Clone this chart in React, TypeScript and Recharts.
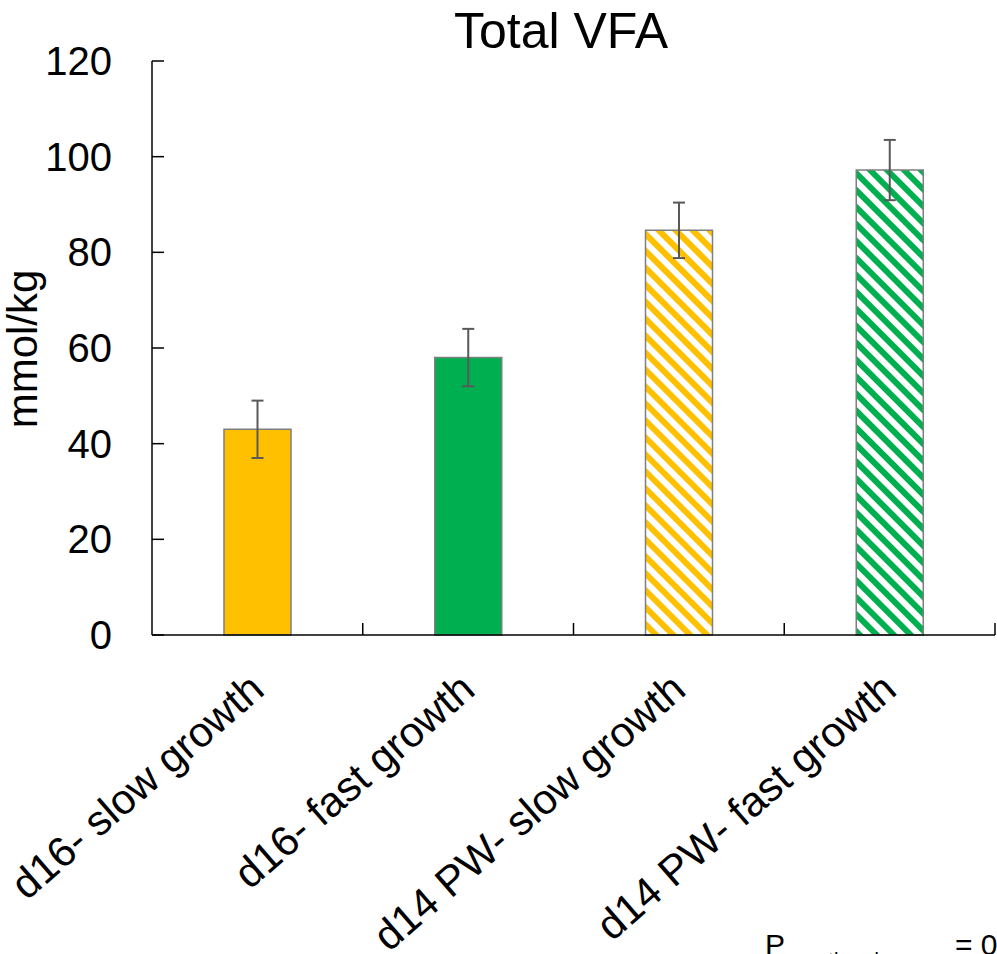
import { BarChart, Bar, XAxis, YAxis, Cell, ErrorBar } from "recharts";

const groups = [
  "d16- slow growth",
  "d16- fast growth",
  "d14 PW- slow growth",
  "d14 PW- fast growth",
];
const totalVfa = [43, 58, 84.6, 97.2];
const vfaSem = [6, 6, 5.8, 6.3];
const yTicks = [0, 20, 40, 60, 80, 100, 120];

const data = groups.map((g, i) => ({ group: g, vfa: totalVfa[i], sem: vfaSem[i] }));

const font = "'Liberation Sans', Arial, sans-serif";
const barFills = ["#FFC000", "#00B050", "url(#stripeGold)", "url(#stripeGreen)"];

const GroupTick = (props: any) => {
  const { x, y, payload, width, visibleTicksCount } = props;
  const band = (width || 843) / (visibleTicksCount || groups.length);
  const lx = x + 9;
  const ly = y + 58;
  return (
    <g>
      <line x1={x + band / 2} x2={x + band / 2} y1={y} y2={y - 12} stroke="#000" strokeWidth={1.5} />
      <text
        x={lx}
        y={ly}
        transform={`rotate(-41, ${lx}, ${ly})`}
        textAnchor="end"
        fontSize={42}
        fontFamily={font}
        fill="#000"
      >
        {payload.value}
      </text>
    </g>
  );
};

const ValueTick = (props: any) => {
  const { x, y, payload } = props;
  return (
    <g>
      <line x1={x} x2={x + 12} y1={y} y2={y} stroke="#000" strokeWidth={1.5} />
      <text x={x - 40} y={y} textAnchor="end" dominantBaseline="central" fontSize={40} fontFamily={font} fill="#000">
        {payload.value}
      </text>
    </g>
  );
};

const App = () => {
  return (
    <div style={{ position: "relative", width: 997, height: 954, overflow: "hidden", background: "#fff" }}>
      <style>{"body{margin:0}"}</style>
      <BarChart
        width={997}
        height={954}
        data={data}
        margin={{ top: 61, right: 2, left: 0, bottom: 0 }}
      >
        <XAxis
          dataKey="group"
          height={319}
          interval={0}
          tickLine={false}
          tickSize={0}
          tickMargin={0}
          axisLine={{ stroke: "#000", strokeWidth: 1.5 }}
          tick={<GroupTick />}
        />
        <YAxis
          width={152}
          domain={[0, 120]}
          ticks={yTicks}
          interval={0}
          tickLine={false}
          tickSize={0}
          tickMargin={0}
          axisLine={{ stroke: "#000", strokeWidth: 1.5 }}
          tick={<ValueTick />}
        />
        <Bar dataKey="vfa" barSize={67} stroke="#7F7F7F" strokeWidth={1.5} isAnimationActive={false}>
          {data.map((d, i) => (
            <Cell key={d.group} fill={barFills[i]} />
          ))}
          <ErrorBar dataKey="sem" width={6} stroke="#595959" strokeWidth={2} />
        </Bar>
      </BarChart>
      <svg
        width={997}
        height={954}
        style={{ position: "absolute", left: 0, top: 0, pointerEvents: "none" }}
      >
        <defs>
          <pattern id="stripeGold" width="12" height="12" patternUnits="userSpaceOnUse" patternTransform="rotate(-45)">
            <rect width="12" height="12" fill="#fff" />
            <rect width="6" height="12" fill="#FFC000" />
          </pattern>
          <pattern id="stripeGreen" width="12" height="12" patternUnits="userSpaceOnUse" patternTransform="rotate(-45)">
            <rect width="12" height="12" fill="#fff" />
            <rect width="6" height="12" fill="#00B050" />
          </pattern>
        </defs>
        <text x={561} y={48} textAnchor="middle" fontSize={50} fontFamily={font} fill="#000">
          Total VFA
        </text>
        <text transform="translate(37, 349) rotate(-90)" textAnchor="middle" fontSize={42} fontFamily={font} fill="#000">
          mmol/kg
        </text>
        <text x={765} y={955} fontSize={30} fontFamily={font} fill="#000">
          P
          <tspan fontSize={20} dy={12}>growth × day</tspan>
          <tspan x={955} dy={-12}>= 0.01</tspan>
        </text>
      </svg>
    </div>
  );
};

export default App;
